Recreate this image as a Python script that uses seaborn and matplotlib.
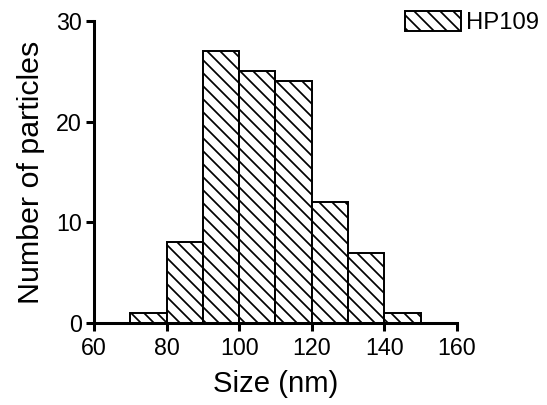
import numpy as np
import seaborn as sns
import matplotlib.pyplot as plt
import matplotlib.patches as mpatches

# Histogram bins
bin_edges = [70, 80, 90, 100, 110, 120, 130, 140, 150]
bin_centers = [75, 85, 95, 105, 115, 125, 135, 145]
counts = [1, 8, 27, 25, 24, 12, 7, 1]
series_label = 'HP109'

sns.set_style('ticks')
plt.rcParams['font.family'] = ['Liberation Sans', 'DejaVu Sans']
plt.rcParams['hatch.linewidth'] = 1.6
plt.rcParams['hatch.color'] = 'black'
plt.rcParams['text.color'] = 'black'
plt.rcParams['axes.labelcolor'] = 'black'
plt.rcParams['xtick.color'] = 'black'
plt.rcParams['ytick.color'] = 'black'

DPI = 78
fig = plt.figure(figsize=(547 / DPI, 405 / DPI), dpi=DPI)
ax = fig.add_axes([0.1718, 0.2025, 0.8355 - 0.1718, 0.948 - 0.2025])

sns.histplot(x=bin_centers, weights=counts, bins=bin_edges,
             color='white', edgecolor='black', linewidth=1.8,
             alpha=1, ax=ax)
for p in ax.patches:
    p.set_hatch('\\\\')
    p.set_facecolor('white')

ax.set_xlim(60, 160)
ax.set_ylim(0, 30)
ax.set_xticks([60, 80, 100, 120, 140, 160])
ax.set_yticks([0, 10, 20, 30])

ax.set_xlabel('Size (nm)', fontsize=27, labelpad=9)
ax.set_ylabel('Number of particles', fontsize=28, labelpad=10)
ax.tick_params(axis='x', pad=6)
ax.tick_params(axis='y', pad=4)
ax.tick_params(axis='both', labelsize=21.5, width=2.8, length=7,
               direction='out', color='black', labelcolor='black')
for side in ['left', 'bottom']:
    ax.spines[side].set_linewidth(2.8)
    ax.spines[side].set_color('black')
sns.despine(ax=ax)

handle = mpatches.Patch(facecolor='white', edgecolor='black', hatch='\\\\',
                        linewidth=1.8, label=series_label)
fig.legend(handles=[handle], loc='upper right', bbox_to_anchor=(0.995, 0.985),
           frameon=False, fontsize=22, handlelength=2.33, handleheight=0.92,
           handletextpad=0.25, borderpad=0.2, borderaxespad=0)

fig.savefig('out.png', dpi=DPI, facecolor='white')
